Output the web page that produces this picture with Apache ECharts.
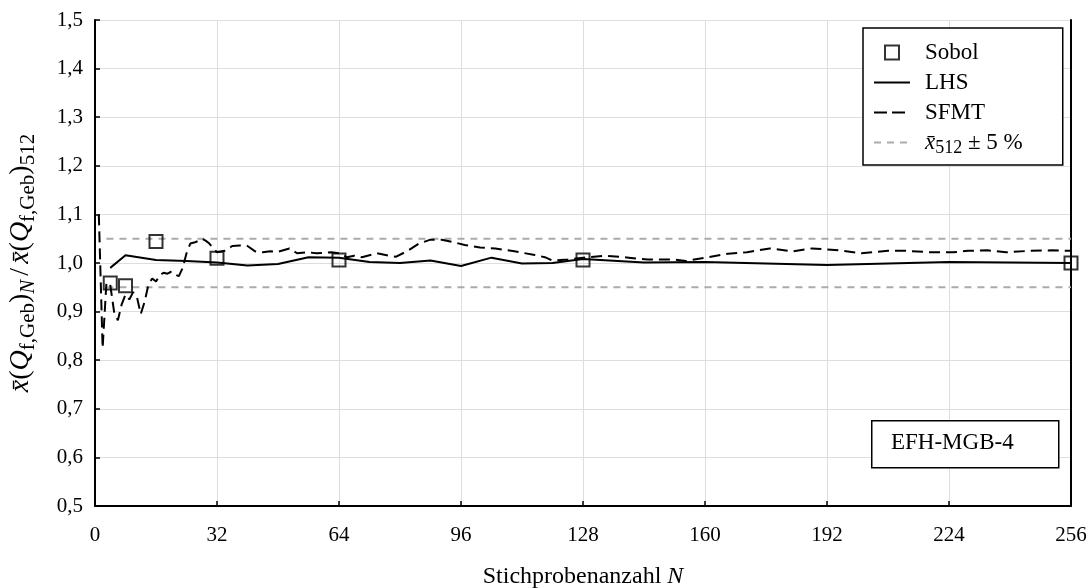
<!DOCTYPE html>
<html>
<head>
<meta charset="utf-8">
<script src="https://cdn.jsdelivr.net/npm/echarts@6/dist/echarts.min.js"></script>
<style>html,body{margin:0;padding:0;background:#fff;}#c{width:1091px;height:588px;}</style>
</head>
<body>
<div id="c"></div>
<script>
// ---- data ----
const xTicks = [0, 32, 64, 96, 128, 160, 192, 224, 256];
const yTicks = [0.5, 0.6, 0.7, 0.8, 0.9, 1.0, 1.1, 1.2, 1.3, 1.4, 1.5];
const sobolN = [4, 8, 16, 32, 64, 128, 256];
const sobolV = [0.959, 0.953, 1.044, 1.010, 1.006, 1.006, 1.000];
const lhsN = [4, 8, 16, 24, 32, 40, 48, 56, 64, 72, 80, 88, 96, 104, 112, 120, 128, 144, 160, 192, 224, 256];
const lhsV = [0.990, 1.016, 1.006, 1.004, 1.001, 0.995, 0.998, 1.012, 1.011, 1.002, 1.000, 1.005, 0.994, 1.011, 0.999, 1.000, 1.008, 1.001, 1.002, 0.996, 1.002, 1.000];
const sfmtN = [1, 2, 3, 4, 5, 6, 7, 8, 9, 10, 11, 12, 13, 14, 15, 16, 17, 18, 19, 20, 21, 22, 23, 24, 25, 26, 27, 28, 29, 30, 31, 32, 34, 36, 38, 40, 42, 44, 46, 48, 51, 53, 56, 58, 62, 64, 66, 68, 70, 74, 77, 79, 82, 85, 88, 91, 94, 97, 101, 105, 110, 115, 118, 120, 124, 128, 134, 140, 145, 152, 155, 160, 166, 171, 177, 183, 188, 195, 201, 208, 213, 219, 225, 229, 234, 239, 245, 251, 256];
const sfmtV = [1.100, 0.825, 0.960, 0.955, 0.900, 0.882, 0.915, 0.935, 0.925, 0.940, 0.930, 0.895, 0.920, 0.955, 0.968, 0.962, 0.975, 0.980, 0.978, 0.982, 0.976, 0.973, 0.990, 1.020, 1.040, 1.042, 1.045, 1.050, 1.046, 1.040, 1.030, 1.022, 1.025, 1.035, 1.036, 1.035, 1.024, 1.022, 1.024, 1.023, 1.030, 1.020, 1.022, 1.020, 1.022, 1.020, 1.012, 1.015, 1.012, 1.020, 1.015, 1.013, 1.025, 1.040, 1.048, 1.048, 1.043, 1.037, 1.032, 1.030, 1.024, 1.017, 1.012, 1.005, 1.007, 1.011, 1.015, 1.011, 1.007, 1.007, 1.004, 1.011, 1.019, 1.022, 1.030, 1.024, 1.030, 1.026, 1.020, 1.025, 1.025, 1.022, 1.022, 1.025, 1.026, 1.022, 1.025, 1.026, 1.025];
const refN = [3, 256];
const refUpper = 1.05;
const refLower = 0.95;

const pairs = (xs, ys) => xs.map((x, i) => [x, ys[i]]);
const SERIF = '"Liberation Serif", "Times New Roman", serif';

const chart = echarts.init(document.getElementById('c'), null, {renderer: 'canvas'});

function mathRich(main, sub, lh) {
  return {
    i: {fontFamily: SERIF, fontStyle: 'italic', fontSize: main, lineHeight: lh, color: '#000'},
    r: {fontFamily: SERIF, fontSize: main, lineHeight: lh, color: '#000'},
    sl: {fontFamily: SERIF, fontSize: main, lineHeight: lh, color: '#000', padding: [0, 4, 0, 4]},
    s: {fontFamily: SERIF, fontSize: sub, lineHeight: sub + 1, verticalAlign: 'bottom', color: '#000'},
    si: {fontFamily: SERIF, fontStyle: 'italic', fontSize: sub, lineHeight: sub + 1, verticalAlign: 'bottom', color: '#000'}
  };
}

const noSym = {opacity: 0};

const option = {
  backgroundColor: '#fff',
  animation: false,
  grid: {left: 95, right: 20, top: 20, bottom: 82, containLabel: false, outerBoundsMode: 'none'},
  legend: {
    orient: 'vertical',
    left: 863, top: 28,
    padding: [13, 40, 8, 10],
    itemGap: 7,
    itemWidth: 36, itemHeight: 14,
    backgroundColor: '#fff',
    borderColor: '#000', borderWidth: 1.5, borderRadius: 0,
    data: [
      {name: 'Sobol', icon: 'path://M0 0L10 0L10 10L0 10Z', itemStyle: {color: 'rgba(255,255,255,0)', borderColor: '#000', borderWidth: 2}},
      {name: 'LHS', itemStyle: noSym},
      {name: 'SFMT', itemStyle: noSym, lineStyle: {type: [13, 5], width: 2}},
      {name: 'ref', itemStyle: noSym}
    ],
    formatter: function (n) {
      if (n === 'ref') return '{i|x\u0304}{s|512}{r| \u00b1 5 %}';
      return '{r|' + n + '}';
    },
    textStyle: {fontFamily: SERIF, fontSize: 23, color: '#000', padding: [0, 0, 0, 10], rich: mathRich(23, 18, 29)}
  },
  xAxis: {
    type: 'value', min: 0, max: 256, interval: 32,
    name: '{r|Stichprobenanzahl }{i|N}',
    nameLocation: 'middle', nameGap: 57,
    nameTextStyle: {rich: mathRich(24, 18, 28)},
    axisLine: {show: true, onZero: false, lineStyle: {color: '#000', width: 2}},
    axisTick: {show: true, inside: true, length: 5, lineStyle: {color: '#000', width: 1.5}},
    axisLabel: {fontFamily: SERIF, fontSize: 21, color: '#000', margin: 19,
      formatter: v => xTicks.includes(v) ? String(v) : ''},
    splitLine: {show: true, lineStyle: {color: '#dedede', width: 1}}
  },
  yAxis: [{
    type: 'value', min: 0.5, max: 1.5, interval: 0.1,
    name: '{i|x\u0304}{r|(}{i|Q}{s|f,Geb}{r|)}{si|N}{sl|/}{i|x\u0304}{r|(}{i|Q}{s|f,Geb}{r|)}{s|512}',
    nameLocation: 'middle', nameGap: 56, nameRotate: 90,
    nameTextStyle: {rich: mathRich(28, 21, 36)},
    axisLine: {show: true, onZero: false, lineStyle: {color: '#000', width: 2}},
    axisTick: {show: true, inside: true, length: 5, lineStyle: {color: '#000', width: 1.5}},
    axisLabel: {fontFamily: SERIF, fontSize: 21, color: '#000', margin: 12,
      formatter: v => {
        const t = yTicks.find(y => Math.abs(y - v) < 1e-6);
        return t === undefined ? '' : t.toFixed(1).replace('.', ',');
      }},
    splitLine: {show: true, lineStyle: {color: '#dedede', width: 1}}
  }, {
    type: 'value', min: 0.5, max: 1.5, interval: 0.1, position: 'right',
    axisLine: {show: true, onZero: false, lineStyle: {color: '#000', width: 2}},
    axisTick: {show: false}, axisLabel: {show: false}, splitLine: {show: false}
  }],
  series: [
    {
      name: 'ref', type: 'line', symbol: 'none', z: 1,
      data: refN.map(n => [n, refUpper]),
      itemStyle: {color: '#ababab'},
      lineStyle: {color: '#ababab', width: 2, type: [7, 6]}
    },
    {
      name: 'ref', type: 'line', symbol: 'none', z: 1,
      data: refN.map(n => [n, refLower]),
      itemStyle: {color: '#ababab'},
      lineStyle: {color: '#ababab', width: 2, type: [7, 6]}
    },
    {
      name: 'LHS', type: 'line', symbol: 'none', z: 3,
      data: pairs(lhsN, lhsV),
      itemStyle: {color: '#000'},
      lineStyle: {color: '#000', width: 2}
    },
    {
      name: 'SFMT', type: 'line', symbol: 'none', z: 3,
      data: pairs(sfmtN, sfmtV),
      itemStyle: {color: '#000'},
      lineStyle: {color: '#000', width: 2, type: [11, 6]}
    },
    {
      name: 'Sobol', type: 'scatter', symbol: 'rect', symbolSize: 13, z: 5,
      data: pairs(sobolN, sobolV),
      itemStyle: {color: 'rgba(255,255,255,0)', borderColor: '#000', borderWidth: 2}
    }
  ],
  graphic: [
    {type: 'rect', z: 100, left: 871, top: 420, shape: {width: 187, height: 47},
      style: {fill: '#fff', stroke: '#000', lineWidth: 1.5}},
    {type: 'text', z: 101, left: 891, top: 431,
      style: {text: 'EFH-MGB-4', font: '23px ' + SERIF, fill: '#000'}}
  ]
};
chart.setOption(option);
</script>
</body>
</html>
